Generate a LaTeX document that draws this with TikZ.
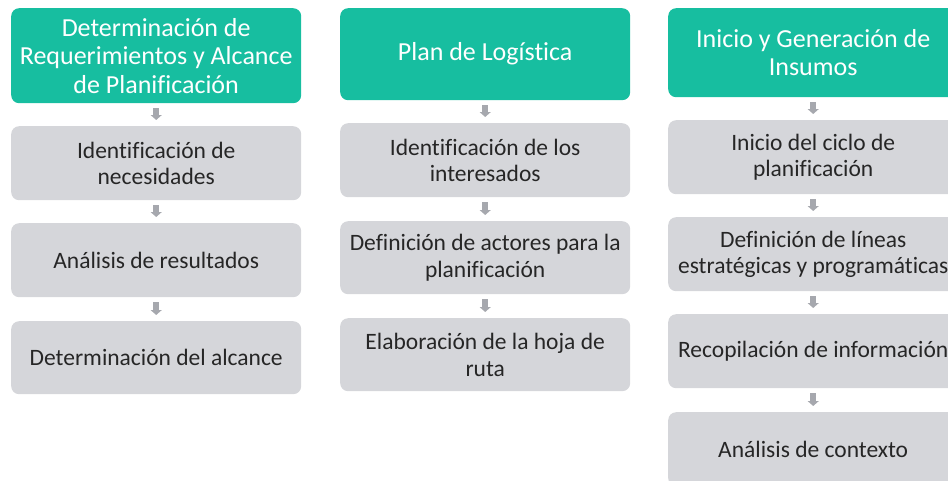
\documentclass[tikz,border=0pt]{standalone}
\usepackage{fontspec}
\setmainfont{Carlito}[Ligatures=NoCommon]
\usetikzlibrary{arrows.meta}
\definecolor{teal1}{RGB}{23,190,160}
\definecolor{grey1}{RGB}{213,214,218}
\definecolor{arrowgrey}{RGB}{166,168,174}
\definecolor{txt}{RGB}{38,38,38}
\tikzset{
  head/.style={fill=teal1, rounded corners=8pt, anchor=north west, minimum width=290pt, inner sep=0pt, align=center, text=white, font=\fontsize{26}{28.5}\selectfont},
  stepbox/.style={fill=grey1, rounded corners=8pt, anchor=north west, minimum width=290pt, minimum height=74pt, inner sep=0pt, align=center, text=txt, font=\fontsize{23.5}{26.5}\selectfont},
  arr/.style={draw=arrowgrey, line width=6pt, -{Triangle[width=11pt,length=5pt]}, shorten <=5pt, shorten >=6pt}
}
\begin{document}
\begin{tikzpicture}[x=1pt,y=1pt]
\useasboundingbox (0,0) rectangle (948,-480);
\clip (0,0) rectangle (948,-480);
% column 1
\node[head, minimum height=95pt] (h1) at (11,-8) {Determinación de\\Requerimientos y Alcance\\de Planificación};
\node[stepbox] (a1) at (11,-126) {Identificación de\\necesidades};
\node[stepbox, minimum height=74pt] (a2) at (11,-223) {Análisis de resultados};
\node[stepbox, minimum height=73pt] (a3) at (11,-321) {Determinación del alcance};
% column 2
\node[head, minimum height=92pt] (h2) at (340,-8) {Plan de Logística};
\node[stepbox] (b1) at (340,-123) {Identificación de los\\interesados};
\node[stepbox, minimum height=73pt] (b2) at (340,-221) {Definición de actores para la\\planificación};
\node[stepbox, minimum height=73pt] (b3) at (340,-318) {Elaboración de la hoja de\\ruta};
% column 3
\node[head, minimum height=89pt] (h3) at (668,-8) {Inicio y Generación de\\Insumos};
\node[stepbox] (c1) at (668,-120) {Inicio del ciclo de\\planificación};
\node[stepbox] (c2) at (668,-217) {Definición de líneas\\estratégicas y programáticas};
\node[stepbox] (c3) at (668,-314) {Recopilación de información};
\node[stepbox] (c4) at (668,-412) {Análisis de contexto};
% arrows
\draw[arr] (h1.south) -- (a1.north);
\draw[arr] (a1.south) -- (a2.north);
\draw[arr] (a2.south) -- (a3.north);
\draw[arr] (h2.south) -- (b1.north);
\draw[arr] (b1.south) -- (b2.north);
\draw[arr] (b2.south) -- (b3.north);
\draw[arr] (h3.south) -- (c1.north);
\draw[arr] (c1.south) -- (c2.north);
\draw[arr] (c2.south) -- (c3.north);
\draw[arr] (c3.south) -- (c4.north);
\end{tikzpicture}
\end{document}
